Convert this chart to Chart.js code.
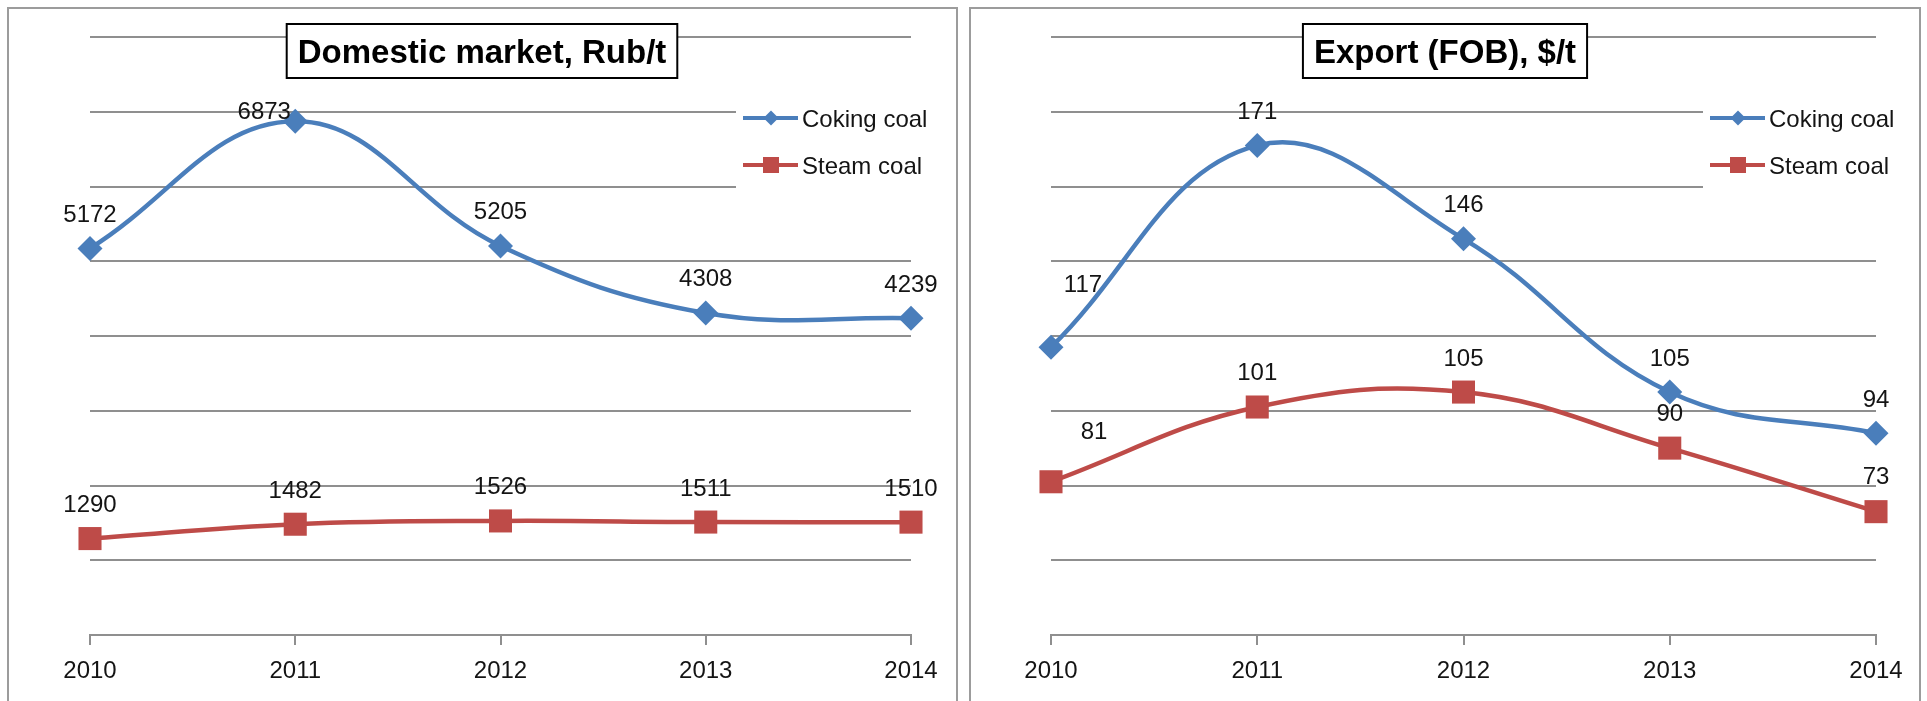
<!DOCTYPE html>
<html><head><meta charset="utf-8">
<script src="https://cdn.jsdelivr.net/npm/chart.js@4.4.1/dist/chart.umd.min.js"></script>
<style>
html,body{margin:0;padding:0;background:#fff;width:1927px;height:701px;overflow:hidden;}
.wrap{position:absolute;top:0;height:701px;}
.panel{position:absolute;top:7px;height:760px;border:2px solid #9c9c9c;box-sizing:border-box;pointer-events:none;}
canvas{display:block;}
</style></head><body>
<div class="wrap" style="left:0;width:963px;"><canvas id="c1" width="963" height="701"></canvas></div>
<div class="wrap" style="left:963px;width:964px;"><canvas id="c2" width="964" height="701"></canvas></div>
<div class="panel" style="left:7px;width:951px;"></div>
<div class="panel" style="left:969px;width:952px;"></div>
<script>
// ---- data ----
const years = ['2010', '2011', '2012', '2013', '2014'];
const seriesNames = ['Coking coal', 'Steam coal'];
const domesticCoking = [5172, 6873, 5205, 4308, 4239];
const domesticSteam = [1290, 1482, 1526, 1511, 1510];
const exportCoking = [117, 171, 146, 105, 94];
const exportSteam = [81, 101, 105, 90, 73];
const domesticAxis = [0, 8000, 1000];   // min, max, step
const exportAxis = [40, 200, 20];       // min, max, step
const domesticTitle = 'Domestic market, Rub/t';
const exportTitle = 'Export (FOB), $/t';

// label offsets (style only): [dx, dy] per point, default is above the point
const domesticOffsets = [[[0,-35],[-31,-11],[0,-35],[0,-35],[0,-35]], [[0,-35],[0,-35],[0,-35],[0,-35],[0,-35]]];
const exportOffsets = [[[32,-64],[0,-35],[0,-35],[0,-35],[0,-35]], [[43,-51],[0,-36],[0,-35],[0,-36],[0,-36]]];

const BLUE = '#4A7EBB', RED = '#BE4B48', GRID = '#8f8f8f', TXT = '#141414';
const FONT = '"Liberation Sans", Arial, sans-serif';

function diamond(ctx, x, y, r) {
  ctx.beginPath(); ctx.moveTo(x, y - r); ctx.lineTo(x + r, y); ctx.lineTo(x, y + r); ctx.lineTo(x - r, y); ctx.closePath(); ctx.fill();
}

const overlay = {
  id: 'overlay',
  beforeDatasetsDraw(chart, args, o) {
    const ctx = chart.ctx;
    ctx.save();
    // legend background (hides gridlines)
    ctx.fillStyle = '#fff';
    ctx.fillRect(o.legendX - 7, 86, chart.width - o.legendX + 7, 112);
    // title box
    ctx.font = 'bold 33px ' + FONT;
    const tw = ctx.measureText(o.title).width;
    const bw = tw + 22, bh = 54, bx = o.titleCx - bw / 2, by = 24;
    ctx.fillRect(bx, by, bw, bh);
    ctx.lineWidth = 2; ctx.strokeStyle = '#000';
    ctx.strokeRect(bx, by, bw, bh);
    ctx.fillStyle = '#000'; ctx.textAlign = 'center'; ctx.textBaseline = 'alphabetic';
    ctx.fillText(o.title, o.titleCx, 63);
    // legend entries
    chart.data.datasets.forEach((ds, i) => {
      const y = 118 + i * 47;
      ctx.strokeStyle = ds.borderColor; ctx.lineWidth = 4;
      ctx.beginPath(); ctx.moveTo(o.legendX, y); ctx.lineTo(o.legendX + 55, y); ctx.stroke();
      ctx.fillStyle = ds.backgroundColor;
      const mx = o.legendX + 28;
      if (ds.pointStyle === 'rectRot') diamond(ctx, mx, y, 7.5);
      else ctx.fillRect(mx - 8, y - 8, 16, 16);
      ctx.fillStyle = TXT; ctx.textAlign = 'left'; ctx.font = '24px ' + FONT;
      ctx.fillText(ds.label, o.legendX + 59, y + 8.5);
    });
    ctx.restore();
  },
  afterDatasetsDraw(chart, args, o) {
    const ctx = chart.ctx;
    ctx.save();
    ctx.font = '24px ' + FONT; ctx.fillStyle = TXT; ctx.textAlign = 'center'; ctx.textBaseline = 'alphabetic';
    chart.data.datasets.forEach((ds, i) => {
      chart.getDatasetMeta(i).data.forEach((pt, j) => {
        const off = o.offsets[i][j];
        ctx.fillText(String(ds.data[j]), pt.x + off[0], pt.y + off[1] + 8.5);
      });
    });
    ctx.restore();
  }
};

function makeChart(id, coking, steam, axis, title, offsets, pad, titleCx, legendX) {
  return new Chart(document.getElementById(id), {
    type: 'line',
    data: {
      labels: years,
      datasets: [
        { label: seriesNames[0], data: coking, borderColor: BLUE, backgroundColor: BLUE, borderWidth: 4.5,
          pointStyle: 'rectRot', pointRadius: 12.5, pointBorderWidth: 0, tension: 0.4, clip: false },
        { label: seriesNames[1], data: steam, borderColor: RED, backgroundColor: RED, borderWidth: 4.5,
          pointStyle: 'rect', pointRadius: 16.3, pointBorderWidth: 0, tension: 0.4, clip: false }
      ]
    },
    options: {
      responsive: false, animation: false, devicePixelRatio: 1,
      layout: { padding: pad },
      plugins: { legend: { display: false }, tooltip: { enabled: false },
        overlay: { title: title, offsets: offsets, titleCx: titleCx, legendX: legendX } },
      scales: {
        x: {
          grid: { drawOnChartArea: false, drawTicks: true, tickLength: 10, color: GRID, lineWidth: 2 },
          border: { display: true, color: GRID, width: 2 },
          ticks: { color: TXT, font: { family: FONT, size: 24 }, padding: 12, maxRotation: 0, autoSkip: false },
          afterFit: s => { s.height = 66; }
        },
        y: {
          min: axis[0], max: axis[1],
          ticks: { display: false, stepSize: axis[2] },
          grid: { color: GRID, lineWidth: 2, drawTicks: false },
          border: { display: false },
          afterFit: s => { s.width = 0; }
        }
      }
    },
    plugins: [overlay]
  });
}

makeChart('c1', domesticCoking, domesticSteam, domesticAxis, domesticTitle, domesticOffsets,
  { left: 90, right: 52, top: 37, bottom: 0 }, 482, 743);
makeChart('c2', exportCoking, exportSteam, exportAxis, exportTitle, exportOffsets,
  { left: 88, right: 51, top: 37, bottom: 0 }, 482, 747);
</script>
</body></html>
